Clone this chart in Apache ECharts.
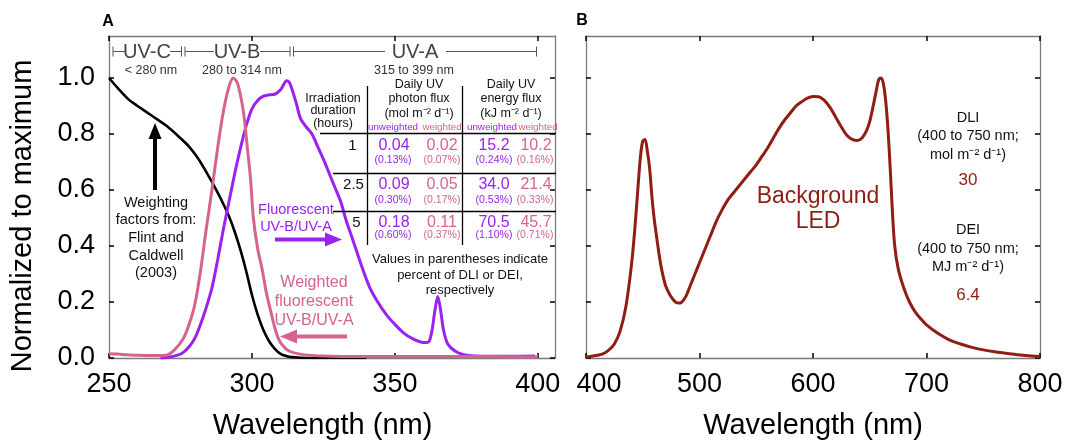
<!DOCTYPE html>
<html>
<head>
<meta charset="utf-8">
<script src="https://cdn.jsdelivr.net/npm/echarts@6/dist/echarts.min.js"></script>
<style>html,body{margin:0;padding:0;background:#fff}#c{width:1067px;height:445px}</style>
</head>
<body>
<div id="c"></div>
<script>
// ---------- DATA ----------
// Panel A: weighting factors (Flint & Caldwell 2003)
const weightWl  = [250,253,257,260,265,270,275,278,281,284,287,290,292,294,296,298,300,302,304,306,308,310,312,314,317,321,326,340];
const weightVal = [1.0,0.965,0.922,0.9,0.865,0.83,0.785,0.755,0.715,0.665,0.61,0.55,0.505,0.45,0.385,0.31,0.225,0.155,0.1,0.06,0.033,0.015,0.007,0.003,0.001,0,0,0];
// Panel A: weighted fluorescent UV-B/UV-A
const pinkWl  = [250,253,256,260,265,270,273,276,278,280,282,284,286,288,290,292,293.5,295,297,298.5,299.5,300.5,302,303.5,305,306.5,308.5,310,313,318,325,340,360,380,400];
const pinkVal = [0.015,0.014,0.012,0.01,0.009,0.01,0.03,0.07,0.12,0.19,0.31,0.46,0.6,0.75,0.88,0.97,1.0,0.98,0.88,0.74,0.64,0.5,0.39,0.32,0.235,0.17,0.09,0.055,0.025,0.012,0.007,0.005,0.005,0.005,0.004];
// Panel A: fluorescent UV-B/UV-A
const purpleWl  = [268,271,274,276,278,280,282,284,286,288,290,292,294,296,298,300,302,304,306,308,310,311,312,313,314,315.5,317,319,321,323,325,327,329,331,333,335,337,339,341.5,344,347,350,353,356,359,361,362,363,364,365,366,367,368.5,371,374,378,385,392,399];
const purpleVal = [0,0.003,0.01,0.02,0.04,0.07,0.12,0.18,0.25,0.35,0.46,0.56,0.66,0.75,0.83,0.89,0.92,0.935,0.94,0.942,0.958,0.975,0.99,0.985,0.96,0.91,0.855,0.825,0.8,0.755,0.71,0.66,0.61,0.56,0.49,0.43,0.37,0.31,0.245,0.2,0.155,0.12,0.09,0.07,0.057,0.055,0.06,0.1,0.17,0.22,0.17,0.1,0.05,0.025,0.012,0.007,0.006,0.006,0.007];
// Panel B: background LED
const ledWl  = [400,405,410,415,420,425,430,435,440,443,446,448,450,452,454,456,458,460,463,466,470,474,478,481,484,488,492,496,500,505,510,515,520,525,530,535,540,545,550,555,560,565,570,575,580,585,590,595,600,605,610,615,620,625,630,635,639,643,647,650,653,656,658,660,662,664,666,668,670,672,675,680,685,690,695,700,710,720,730,740,750,760,770,780,790,800];
const ledVal = [0.003,0.006,0.01,0.015,0.028,0.05,0.095,0.18,0.33,0.46,0.62,0.72,0.775,0.78,0.74,0.68,0.58,0.5,0.41,0.33,0.26,0.225,0.203,0.196,0.198,0.22,0.26,0.3,0.34,0.39,0.44,0.49,0.53,0.565,0.59,0.615,0.64,0.665,0.69,0.72,0.75,0.785,0.82,0.85,0.875,0.9,0.915,0.928,0.934,0.933,0.92,0.895,0.86,0.825,0.795,0.78,0.777,0.785,0.81,0.845,0.9,0.96,0.995,1.0,0.98,0.92,0.82,0.68,0.52,0.4,0.32,0.25,0.2,0.165,0.14,0.118,0.088,0.065,0.05,0.038,0.029,0.022,0.017,0.012,0.008,0.005];

// Tick labels
const yTicks = [0, 0.2, 0.4, 0.6, 0.8, 1.0];
const xTicksA = [250, 300, 350, 400];
const xTicksB = [400, 500, 600, 700, 800];

// Table text
const durations   = ['1', '2.5', '5'];
const photonUnw   = ['0.04', '0.09', '0.18'];
const photonUnwP  = ['(0.13%)', '(0.30%)', '(0.60%)'];
const photonW     = ['0.02', '0.05', '0.11'];
const photonWP    = ['(0.07%)', '(0.17%)', '(0.37%)'];
const energyUnw   = ['15.2', '34.0', '70.5'];
const energyUnwP  = ['(0.24%)', '(0.53%)', '(1.10%)'];
const energyW     = ['10.2', '21.4', '45.7'];
const energyWP    = ['(0.16%)', '(0.33%)', '(0.71%)'];
const dliValue = '30';
const deiValue = '6.4';

// ---------- STYLE ----------
const FONT = "'Liberation Sans', Arial, Helvetica, sans-serif";
const PURPLE = '#9a22f0', PINK = '#d6638f', RED = '#8f1d12', AXIS = '#7a7a7a';

const zip = (a, b) => a.map((v, i) => [v, b[i]]);

function T(x, y, text, size, color, extra) {
  return {
    type: 'text', x: x, y: y, z: 10, rotation: (extra && extra.rotation) || 0,
    style: {
      text: text, fill: color || '#000', font: (extra && extra.weight ? extra.weight + ' ' : '') + size + 'px ' + FONT,
      align: 'center', verticalAlign: 'middle', textAlign: 'center', textVerticalAlign: 'middle',
      lineHeight: (extra && extra.lh) || Math.round(size * 1.2)
    }
  };
}
function L(x1, y1, x2, y2, color, w) {
  return { type: 'line', z: 10, shape: { x1: x1, y1: y1, x2: x2, y2: y2 }, style: { stroke: color || '#000', lineWidth: w || 1 } };
}
function P(points, color) {
  return { type: 'polygon', z: 10, shape: { points: points }, style: { fill: color } };
}

const graphics = [];
// panel letters
graphics.push(T(108, 22, 'A', 16, '#000', { weight: 'bold' }));
graphics.push(T(582, 21, 'B', 16, '#000', { weight: 'bold' }));
// y-axis title
graphics.push(T(23, 216, 'Normalized to maximum', 29, '#000', { rotation: Math.PI / 2 }));

// UV band brackets
const by = 51.5, bc = '#555';
graphics.push(L(113, by - 5, 113, by + 5, bc, 1));
graphics.push(L(113, by, 125, by, bc, 1));
graphics.push(T(147, by + 1, 'UV-C', 20, '#444'));
graphics.push(L(170, by, 181, by, bc, 1));
graphics.push(L(181.5, by - 5, 181.5, by + 5, bc, 1));
graphics.push(L(185, by - 5, 185, by + 5, bc, 1));
graphics.push(L(185, by, 214, by, bc, 1));
graphics.push(T(237, by + 1, 'UV-B', 20, '#444'));
graphics.push(L(260, by, 290, by, bc, 1));
graphics.push(L(290, by - 5, 290, by + 5, bc, 1));
graphics.push(L(293.5, by - 5, 293.5, by + 5, bc, 1));
graphics.push(L(293.5, by, 385, by, bc, 1));
graphics.push(T(415, by + 1, 'UV-A', 20, '#444'));
graphics.push(L(446, by, 536.5, by, bc, 1));
graphics.push(L(536.5, by - 5, 536.5, by + 5, bc, 1));
graphics.push(T(151, 71, '< 280 nm', 12.5, '#333'));
graphics.push(T(242, 71, '280 to 314 nm', 12.5, '#333'));
graphics.push(T(414, 71, '315 to 399 nm', 12.5, '#333'));

// table
graphics.push(L(367.5, 86, 367.5, 245, '#000', 1.3));
graphics.push(L(462.5, 86, 462.5, 245, '#000', 1.3));
graphics.push(L(320, 133.5, 556, 133.5, '#000', 1.3));
graphics.push(L(333, 173.5, 556, 173.5, '#000', 1.3));
graphics.push(L(333, 211.5, 556, 211.5, '#000', 1.3));
graphics.push(T(333, 111, 'Irradiation\nduration\n(hours)', 12.5, '#111', { lh: 12.5 }));
graphics.push(T(419, 99, 'Daily UV\nphoton flux\n(mol m\u207B\u00B2 d\u207B\u00B9)', 12.5, '#111', { lh: 14.2 }));
graphics.push(T(511, 99, 'Daily UV\nenergy flux\n(kJ m\u207B\u00B2 d\u207B\u00B9)', 12.5, '#111', { lh: 14.2 }));
graphics.push(T(393, 127, 'unweighted', 9.8, PURPLE));
graphics.push(T(442, 127, 'weighted', 9.8, PINK));
graphics.push(T(492, 127, 'unweighted', 9.8, PURPLE));
graphics.push(T(538, 127, 'weighted', 9.8, PINK));
const rowY = [146, 185, 222.5], pctY = [160.5, 200.5, 235];
const durX = [352.5, 353.5, 356.5];
for (let i = 0; i < 3; i++) {
  graphics.push(T(durX[i], rowY[i], durations[i], 15, '#111'));
  graphics.push(T(394, rowY[i], photonUnw[i], 16, PURPLE));
  graphics.push(T(442, rowY[i], photonW[i], 16, PINK));
  graphics.push(T(494, rowY[i], energyUnw[i], 16, PURPLE));
  graphics.push(T(536, rowY[i], energyW[i], 16, PINK));
  graphics.push(T(393, pctY[i], photonUnwP[i], 10.5, PURPLE));
  graphics.push(T(442, pctY[i], photonWP[i], 10.5, PINK));
  graphics.push(T(494, pctY[i], energyUnwP[i], 10.5, PURPLE));
  graphics.push(T(535, pctY[i], energyWP[i], 10.5, PINK));
}
graphics.push(T(460, 275, 'Values in parentheses indicate\npercent of DLI or DEI,\nrespectively', 13, '#111', { lh: 15.5 }));

// annotations panel A
graphics.push(T(156, 238, 'Weighting\nfactors from:\nFlint and\nCaldwell\n(2003)', 14.5, '#111', { lh: 17.7 }));
graphics.push(L(155, 190, 155, 136, '#000', 4));
graphics.push(P([[155, 123], [148.5, 139], [161.5, 139]], '#000'));

graphics.push(T(296, 218, 'Fluorescent\nUV-B/UV-A', 14.5, PURPLE, { lh: 17 }));
graphics.push(L(275, 239.5, 328, 239.5, PURPLE, 4));
graphics.push(P([[342, 239.5], [325, 232.5], [325, 246.5]], PURPLE));

graphics.push(T(314, 301.5, 'Weighted\nfluorescent\nUV-B/UV-A', 16, PINK, { lh: 19 }));
graphics.push(L(347, 336.5, 293, 336.5, PINK, 4));
graphics.push(P([[280, 336.5], [297, 329.5], [297, 343.5]], PINK));

// annotations panel B
graphics.push(T(818, 209, 'Background\nLED', 23, RED, { lh: 25 }));
graphics.push(T(968, 136, 'DLI\n(400 to 750 nm;\nmol m\u207B\u00B2 d\u207B\u00B9)', 14.5, '#111', { lh: 18.5 }));
graphics.push(T(968, 180, dliValue, 17, RED));
graphics.push(T(968, 248.5, 'DEI\n(400 to 750 nm;\nMJ m\u207B\u00B2 d\u207B\u00B9)', 14.5, '#111', { lh: 18.5 }));
graphics.push(T(968, 295, deiValue, 17, RED));

// ---------- AXES ----------
const lbl = { fontSize: 27, color: '#000', fontFamily: FONT };
function xAxisCfg(grid, min, max, ticks, pos, showLabel, name, namePad, shiftFirst) {
  return {
    type: 'value', gridIndex: grid, position: pos, min: min, max: max, interval: 50,
    axisLine: { show: true, onZero: false, lineStyle: { color: AXIS, width: 1.3 } },
    axisTick: { show: true, inside: true, length: 5, lineStyle: { color: '#000', width: 1.5 },
                customValues: ticks },
    axisLabel: Object.assign({ show: showLabel, margin: 13, customValues: ticks,
      formatter: shiftFirst ? (v => (v === min ? '{first|' + v + '}' : String(v))) : (v => String(v)),
      rich: { first: { fontSize: 27, color: '#000', fontFamily: FONT, padding: [0, 0, 0, 26] } }
    }, lbl),
    splitLine: { show: false },
    name: name || '', nameLocation: 'middle', nameGap: 53,
    nameTextStyle: { fontSize: 29, color: '#000', fontFamily: FONT, padding: namePad || 0 }
  };
}
function yAxisCfg(grid, pos, showLabel) {
  return {
    type: 'value', gridIndex: grid, position: pos, min: 0, max: 1.15,
    axisLine: { show: true, onZero: false, lineStyle: { color: AXIS, width: 1.3 } },
    axisTick: { show: true, inside: true, length: 5, lineStyle: { color: '#000', width: 1.5 }, customValues: yTicks },
    axisLabel: Object.assign({ show: showLabel, margin: 14, customValues: yTicks, formatter: v => v.toFixed(1) }, lbl),
    splitLine: { show: false }
  };
}

const option = {
  animation: false,
  backgroundColor: '#fff',
  grid: [
    { left: 109, top: 36, width: 446, height: 326, containLabel: false },
    { left: 586, top: 36, width: 454, height: 326, containLabel: false }
  ],
  xAxis: [
    xAxisCfg(0, 250, 406, xTicksA, 'bottom', true, 'Wavelength (nm)', [0, 19, 0, 0], false),
    xAxisCfg(0, 250, 406, xTicksA, 'top', false),
    xAxisCfg(1, 400, 800, xTicksB, 'bottom', true, 'Wavelength (nm)', 0, true),
    xAxisCfg(1, 400, 800, xTicksB, 'top', false)
  ],
  yAxis: [
    yAxisCfg(0, 'left', true),
    yAxisCfg(0, 'right', false),
    yAxisCfg(1, 'left', false),
    yAxisCfg(1, 'right', false)
  ],
  series: [
    { type: 'line', xAxisIndex: 0, yAxisIndex: 0, data: zip(weightWl, weightVal), showSymbol: false, smooth: 0.3,
      lineStyle: { color: '#000', width: 2.6 }, itemStyle: { color: '#000' }, z: 3 },
    { type: 'line', xAxisIndex: 0, yAxisIndex: 0, data: zip(purpleWl, purpleVal), showSymbol: false, smooth: 0.3,
      lineStyle: { color: PURPLE, width: 3 }, itemStyle: { color: PURPLE }, z: 4 },
    { type: 'line', xAxisIndex: 0, yAxisIndex: 0, data: zip(pinkWl, pinkVal), showSymbol: false, smooth: 0.3,
      lineStyle: { color: PINK, width: 3 }, itemStyle: { color: PINK }, z: 5 },
    { type: 'line', xAxisIndex: 2, yAxisIndex: 2, data: zip(ledWl, ledVal), showSymbol: false, smooth: 0.3,
      lineStyle: { color: RED, width: 3 }, itemStyle: { color: RED }, z: 4 }
  ],
  graphic: { elements: graphics }
};

const chart = echarts.init(document.getElementById('c'), null, { renderer: 'canvas' });
chart.setOption(option);
</script>
</body>
</html>
